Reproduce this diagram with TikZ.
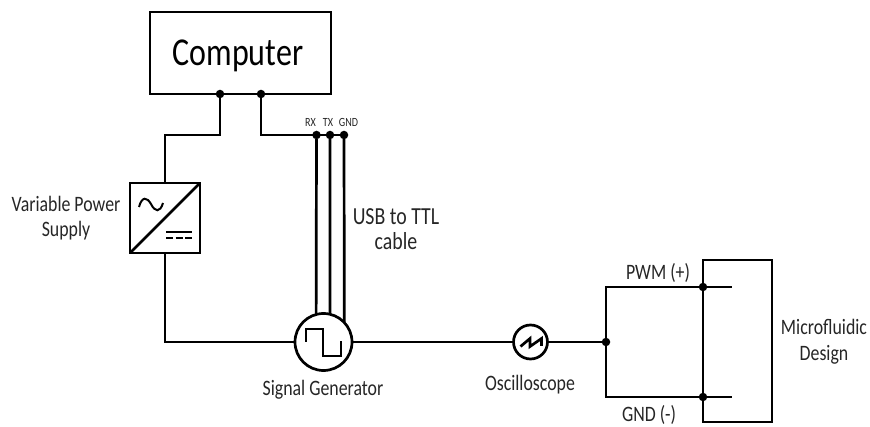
\documentclass[tikz,border=0pt]{standalone}
\usepackage{fontspec}
\setmainfont[FakeStretch=0.81]{Carlito}
\begin{document}
\begin{tikzpicture}[x=1pt, y=-1pt, every node/.style={font=\fontsize{22}{25.5}\selectfont}]
    % Styles
    \tikzstyle{block} = [rectangle, draw=black, line width=2.7pt, inner sep=0pt, outer sep=0pt]
    \tikzstyle{meter} = [circle, draw=black, line width=2.7pt, inner sep=0pt, outer sep=0pt]
    \tikzstyle{joint} = [circle, fill=black, minimum size=8.5pt, inner sep=0pt, outer sep=0pt]
    \tikzstyle{wire} = [line width=2.7pt, black]
    \tikzstyle{glyph} = [line width=2pt, black]
    \tikzstyle{caption} = [align=center, text=black!85]
    \tikzstyle{pin} = [font=\fontsize{12.5}{14}\selectfont, text=black!85]

    \useasboundingbox (0,0) rectangle (870,427);

    % Nodes
    \node (computer) [block, minimum width=181pt, minimum height=82pt, font=\fontsize{39.5}{42}\selectfont] at (240.5,53) {\hspace{-5pt}\raisebox{-12.5pt}[0pt][0pt]{Computer}};
    \node (psu)      [block, minimum width=70pt, minimum height=70pt] at (165,218) {};
    \node (siggen)   [meter, minimum size=57pt] at (323.5,342) {};
    \node (scope)    [meter, minimum size=34pt] at (530.5,342) {};
    \node (design)   [block, minimum width=69pt, minimum height=162pt] at (737.5,341) {};

    % Joints
    \node (pwrtap) [joint] at (220,94) {};
    \node (usbtap) [joint] at (261,94) {};
    \node (rx)     [joint] at (316.5,135) {};
    \node (tx)     [joint] at (330,135) {};
    \node (gnd)    [joint] at (344,135) {};
    \node (split)  [joint] at (606,342) {};
    \node (pwm)    [joint] at (703,287) {};
    \node (ret)    [joint] at (703,397) {};

    \coordinate (psutop) at (165,135);
    \coordinate (psubot) at (165,342);
    \coordinate (pwmend) at (732,287);
    \coordinate (retend) at (732,397);

    % Wires
    \draw [wire] (pwrtap) |- (psutop) -- (psu);
    \draw [wire] (psu) -- (psubot) -- (siggen);
    \draw [wire] (usbtap) |- (gnd);
    \draw [wire] (rx) -- (siggen.105);
    \draw [wire] (tx) -- (siggen.77);
    \draw [wire] (gnd) -- (siggen.43);
    \draw [wire] (siggen) -- (scope);
    \draw [wire] (scope) -- (split);
    \draw [wire] (split) |- (pwm);
    \draw [wire] (split) |- (ret);
    \draw [wire] (pwm) -- (pwmend);
    \draw [wire] (ret) -- (retend);

    % Symbols
    \draw [wire] (psu.south west) -- (psu.north east);
    \draw [glyph] (139,207) .. controls (142,196) and (147,197) .. (151,204) .. controls (155,212) and (160,213) .. (163,203);
    \draw [glyph] (166,232) -- (192,232);
    \draw [glyph, dash pattern=on 7pt off 2.5pt] (166,238) -- (192,238);
    \draw [glyph] (306,342) -- (306,329.5) -- (322.7,329.5) -- (322.7,356) -- (340.7,356) -- (340.7,341.5);
    \draw [wire] (520.5,346.5) -- (530,338.5) -- (530,346.5) -- (541.5,338.5) -- (541.5,346);

    % Captions
    \node [caption] at (66,218) {Variable Power\\Supply};
    \node [caption, font=\fontsize{24.5}{25}\selectfont] at (396,229) {USB to TTL\\cable};
    \node [caption] at (323,390) {Signal Generator};
    \node [caption] at (530,385) {Oscilloscope};
    \node [caption] at (658,273) {PWM (+)};
    \node [caption] at (649,415) {GND (-)};
    \node [caption] at (824,342) {Microfluidic\\Design};
    \node [pin] at (310.5,122) {RX};
    \node [pin] at (328,122) {TX};
    \node [pin] at (348.5,122) {GND};
\end{tikzpicture}
\end{document}
